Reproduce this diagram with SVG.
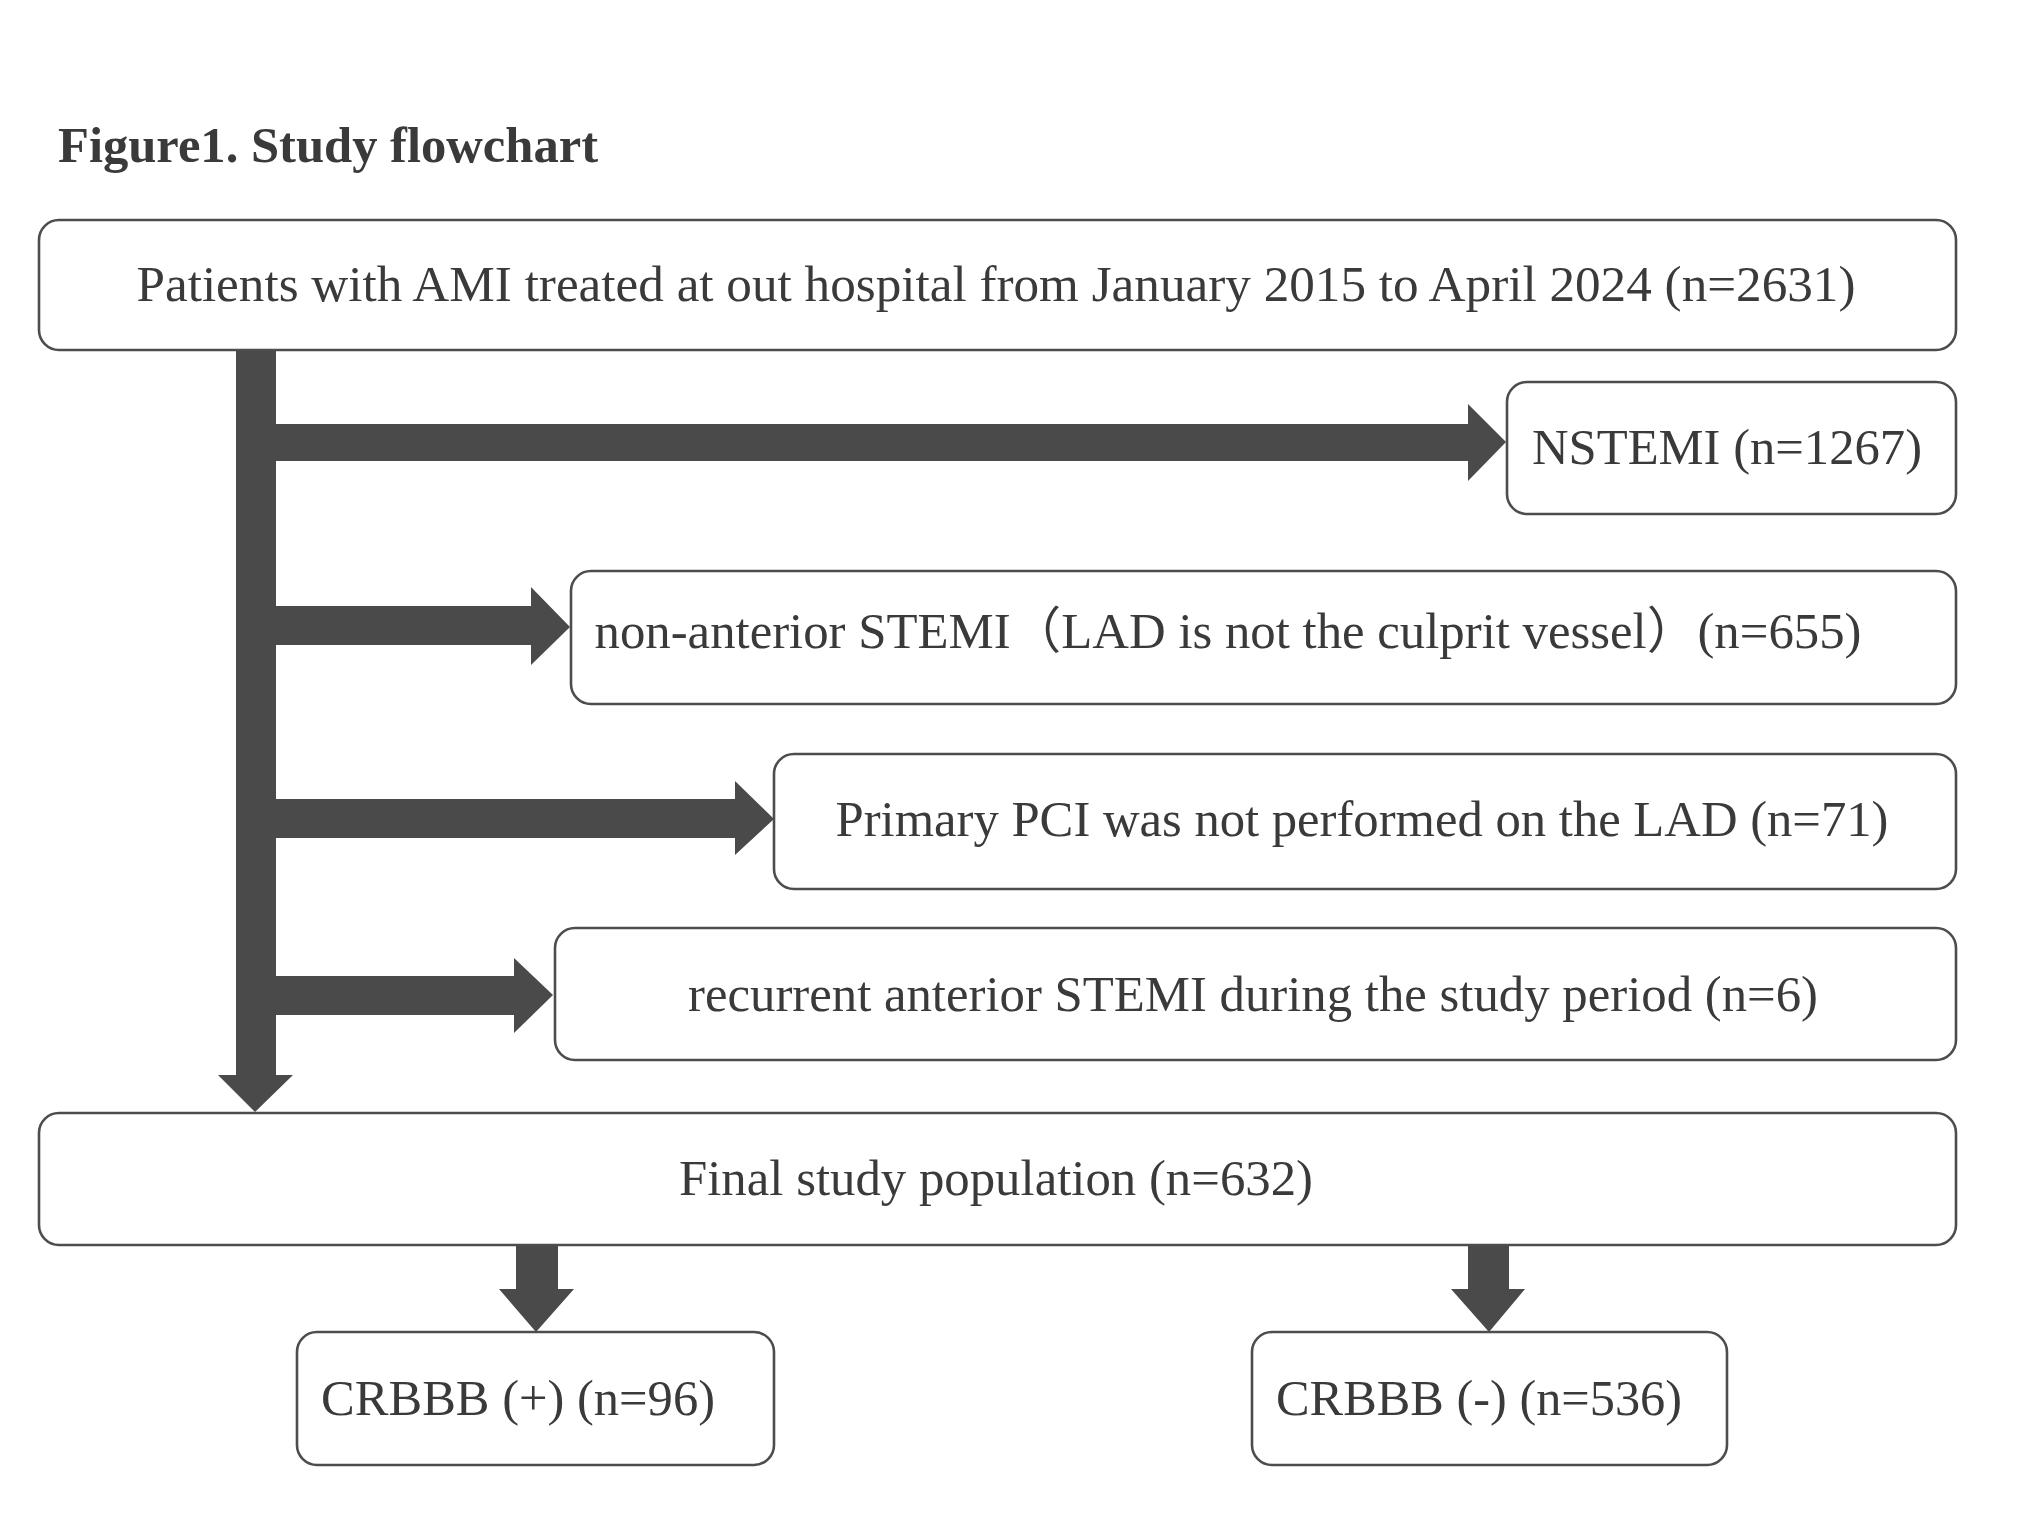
<svg xmlns="http://www.w3.org/2000/svg" width="2031" height="1523" viewBox="0 0 2031 1523">
<style>
.box{fill:#ffffff;stroke:#4d4d4d;stroke-width:2.6}
.t{font-family:"Liberation Serif","Noto Sans CJK SC",serif;font-size:50px;fill:#3a3a3a}
.c{text-anchor:middle}
.title{font-family:"Liberation Serif",serif;font-size:50px;font-weight:bold;fill:#3a3a3a}
.arr{fill:#4a4a4a}
</style>
<rect width="2031" height="1523" fill="#ffffff"/>
<text class="title" x="58" y="162" textLength="540" lengthAdjust="spacingAndGlyphs">Figure1. Study flowchart</text>
<g id="connectors">
<path class="arr" d="M236,349 H276 V1075 H293 L255,1112 L218,1075 H236 Z"/>
<path class="arr" d="M276,424 H1468 V404 L1506,442 L1468,481 V461 H276 Z"/>
<path class="arr" d="M276,606 H531 V587 L570,627 L531,665 V645 H276 Z"/>
<path class="arr" d="M276,799 H735 V781 L774,819 L735,855 V838 H276 Z"/>
<path class="arr" d="M276,976 H514 V958 L553,995 L514,1033 V1015 H276 Z"/>
<path class="arr" d="M516,1245 H558 V1289 H574 L536,1332 L499,1289 H516 Z"/>
<path class="arr" d="M1468,1245 H1509 V1289 H1525 L1489,1332 L1451,1289 H1468 Z"/>
</g>
<g id="node-all">
<rect class="box" x="39" y="220" width="1917" height="130" rx="20"/>
<text class="t c" x="996" y="301" textLength="1719" lengthAdjust="spacingAndGlyphs">Patients with AMI treated at out hospital from January 2015 to April 2024 (n=2631)</text>
</g>
<g id="node-nstemi">
<rect class="box" x="1507" y="382" width="449" height="132" rx="20"/>
<text class="t c" x="1727" y="464" textLength="390" lengthAdjust="spacingAndGlyphs">NSTEMI (n=1267)</text>
</g>
<g id="node-nonanterior">
<rect class="box" x="571" y="571" width="1385" height="133" rx="20"/>
<text class="t c" x="1228" y="648" textLength="1267" lengthAdjust="spacingAndGlyphs">non-anterior STEMI（LAD is not the culprit vessel）(n=655)</text>
</g>
<g id="node-pci">
<rect class="box" x="774" y="754" width="1182" height="135" rx="20"/>
<text class="t c" x="1362" y="836" textLength="1053" lengthAdjust="spacingAndGlyphs">Primary PCI was not performed on the LAD (n=71)</text>
</g>
<g id="node-recurrent">
<rect class="box" x="555" y="928" width="1401" height="132" rx="20"/>
<text class="t c" x="1253" y="1011" textLength="1130" lengthAdjust="spacingAndGlyphs">recurrent anterior STEMI during the study period (n=6)</text>
</g>
<g id="node-final">
<rect class="box" x="39" y="1113" width="1917" height="132" rx="20"/>
<text class="t c" x="996" y="1195" textLength="634" lengthAdjust="spacingAndGlyphs">Final study population (n=632)</text>
</g>
<g id="node-crbbb-pos">
<rect class="box" x="297" y="1332" width="477" height="133" rx="20"/>
<text class="t" x="321" y="1415" textLength="394" lengthAdjust="spacingAndGlyphs">CRBBB (+) (n=96)</text>
</g>
<g id="node-crbbb-neg">
<rect class="box" x="1252" y="1332" width="475" height="133" rx="20"/>
<text class="t" x="1276" y="1415" textLength="406" lengthAdjust="spacingAndGlyphs">CRBBB (-) (n=536)</text>
</g>
</svg>
